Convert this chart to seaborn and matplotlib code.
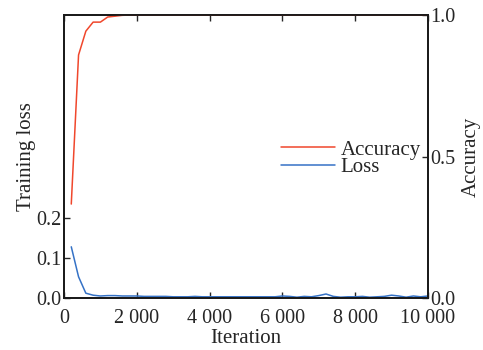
import pandas as pd
import seaborn as sns
import matplotlib.pyplot as plt
import numpy as np

# data, every 200 iterations
iters = list(range(200, 10001, 200))

accuracy = [0.332, 0.859, 0.943, 0.975, 0.975, 0.993, 0.996, 0.999] + [1.0] * 42

loss = [0.128, 0.053, 0.012, 0.007, 0.005, 0.006, 0.006, 0.005, 0.005, 0.005,
        0.004, 0.004, 0.004, 0.004, 0.003, 0.003, 0.003, 0.004, 0.003, 0.003,
        0.003, 0.003, 0.003, 0.003, 0.003, 0.003, 0.003, 0.003, 0.003, 0.005,
        0.004, 0.002, 0.004, 0.003, 0.006, 0.010, 0.004, 0.002, 0.003, 0.003,
        0.004, 0.002, 0.003, 0.004, 0.007, 0.005, 0.002, 0.005, 0.003, 0.005]

xticks = [0, 2000, 4000, 6000, 8000, 10000]
xtick_labels = ["0", "2 000", "4 000", "6 000", "8 000", "10 000"]

df = pd.DataFrame({"iter": iters, "acc": accuracy, "loss": loss})

sns.set_style("ticks")
plt.rcParams['font.family'] = ['Liberation Serif', 'DejaVu Serif']
plt.rcParams['font.size'] = 15

fig = plt.figure(figsize=(4.83, 3.5), dpi=100)
ax = fig.add_axes([0.1325, 0.1486, 0.7535, 0.8084])
ax2 = ax.twinx()

red = "#f0472c"
blue = "#3572c6"

sns.lineplot(data=df, x="iter", y="loss", ax=ax, color=blue, lw=1.1, label="Loss", legend=False)
sns.lineplot(data=df, x="iter", y="acc", ax=ax2, color=red, lw=1.1, label="Accuracy", legend=False)

ax.set_xlim(0, 10000)
ax.set_ylim(0, 0.7075)
ax2.set_ylim(0, 1.0)
ax.set_yticks([0.0, 0.1, 0.2])
ax.set_yticklabels(["0.0", "0.1", "0.2"])
ax2.set_yticks([0.0, 0.5, 1.0])
ax2.set_yticklabels(["0.0", "0.5", "1.0"])
ax.set_xticks(xticks)
ax.set_xticklabels(xtick_labels)

ax.set_xlabel("Iteration", labelpad=1)
ax.set_ylabel("Training loss", labelpad=0)
ax2.set_ylabel("Accuracy", labelpad=4)

ax.tick_params(axis='x', direction='in', top=True, length=4, width=1, pad=8, labelsize=14.5)
ax.tick_params(axis='y', direction='in', length=4, width=1, pad=2, labelsize=14.5)
ax2.tick_params(axis='y', direction='in', length=4, width=1, pad=2, labelsize=14.5)

for a in (ax, ax2):
    for s in a.spines.values():
        s.set_linewidth(1.3)
        s.set_color("#1a1a1a")

h1, l1 = ax2.get_legend_handles_labels()
h2, l2 = ax.get_legend_handles_labels()
ax2.legend(h1 + h2, l1 + l2, loc="upper right", bbox_to_anchor=(1.02, 0.61),
           frameon=False, handlelength=2.6, handletextpad=0.25, labelspacing=-0.1,
           borderaxespad=0.3, fontsize=15)

fig.savefig("out.png", dpi=100)
